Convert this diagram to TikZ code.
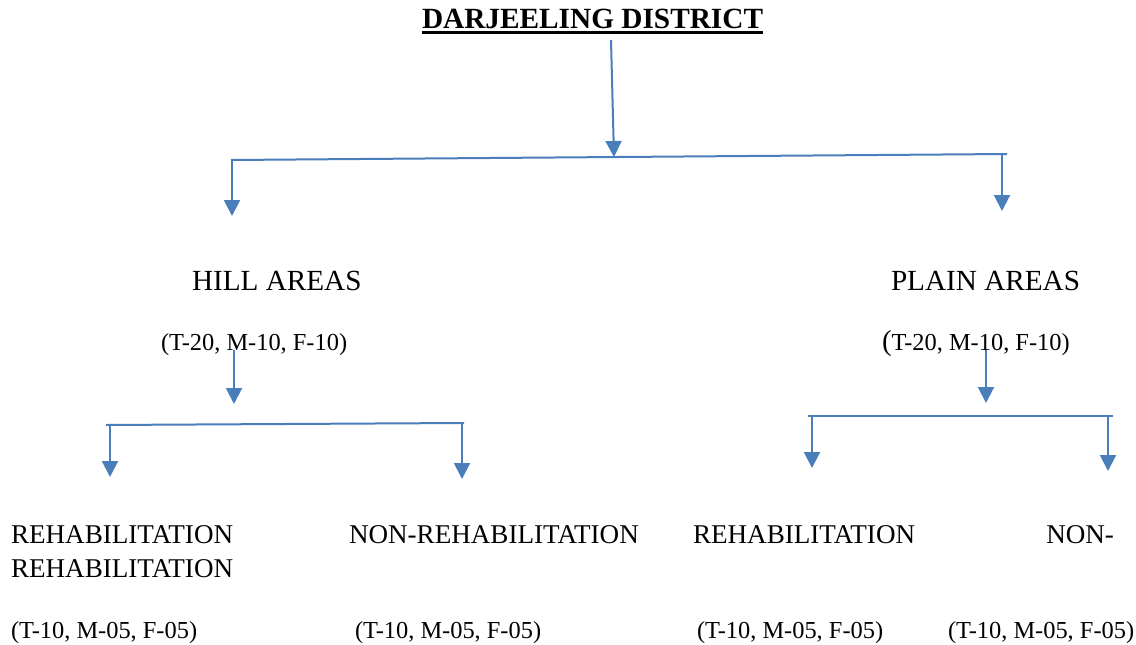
\documentclass[tikz,border=0pt]{standalone}
\usepackage{fontspec}
\setmainfont{Liberation Serif}
\usetikzlibrary{arrows.meta}
\definecolor{arrowblue}{HTML}{4A7EBB}
\tikzset{
  lbl/.style={inner sep=0pt, outer sep=0pt, anchor=base west, font=\fontsize{29.2}{34}\selectfont},
  rlbl/.style={inner sep=0pt, outer sep=0pt, anchor=base west, font=\fontsize{27.1}{34}\selectfont},
  cnt/.style={inner sep=0pt, outer sep=0pt, anchor=base west, font=\fontsize{24.4}{30}\selectfont},
  ttl/.style={inner sep=0pt, outer sep=0pt, anchor=base west, font=\bfseries\fontsize{29.3}{34}\selectfont},
  conn/.style={draw=arrowblue, line width=2pt},
  arr/.style={conn, -{Triangle[width=16pt,length=16pt]}}
}
\begin{document}
\begin{tikzpicture}[x=1pt,y=-1pt]
\useasboundingbox (0,0) rectangle (1136,645);
% title
\node[ttl] (title) at (422,28) {DARJEELING DISTRICT};
\draw[line width=2.4pt] (422,32.5) -- (763,32.5);
% level 1
\node[lbl] (hill) at (192,290) {HILL AREAS};
\node[cnt] (hillc) at (161,350) {(T-20, M-10, F-10)};
\node[lbl] (plain) at (891,290) {PLAIN AREAS};
\node[cnt] (plainc) at (882,350) {{\fontsize{29}{30}\selectfont(}T-20, M-10, F-10)};
% level 2 labels
\node[rlbl] (r1a) at (11,543) {REHABILITATION};
\node[rlbl] (r1b) at (11,577) {REHABILITATION};
\node[rlbl] (n1) at (349,543) {NON-REHABILITATION};
\node[rlbl] (r2) at (693,543) {REHABILITATION};
\node[rlbl, anchor=base east] (n2) at (1114,543) {NON-};
\node[cnt] (c1) at (11,638) {(T-10, M-05, F-05)};
\node[cnt] (c2) at (355,638) {(T-10, M-05, F-05)};
\node[cnt] (c3) at (697,638) {(T-10, M-05, F-05)};
\node[cnt] (c4) at (948,638) {(T-10, M-05, F-05)};
% coordinates
\coordinate (t0) at (611,40);
\coordinate (t1) at (614,157);
\coordinate (hl) at (231,160);
\coordinate (hr) at (1007,154);
\coordinate (a1s) at (232,160);
\coordinate (a1e) at (232,216);
\coordinate (a2s) at (1002,154);
\coordinate (a2e) at (1002,211);
\coordinate (h0) at (234,350);
\coordinate (h1) at (234,404);
\coordinate (hbl) at (106,425);
\coordinate (hbr) at (464,423);
\coordinate (b1s) at (110,425);
\coordinate (b1e) at (110,477);
\coordinate (b2s) at (462,423);
\coordinate (b2e) at (462,479);
\coordinate (p0) at (986,350);
\coordinate (p1) at (986,403);
\coordinate (pbl) at (808,416);
\coordinate (pbr) at (1113,416);
\coordinate (d1s) at (812,416);
\coordinate (d1e) at (812,468);
\coordinate (d2s) at (1108,416);
\coordinate (d2e) at (1108,471);
% connectors
\draw[arr] (t0) -- (t1);
\draw[conn] (hl) -- (hr);
\draw[arr] (a1s) -- (a1e);
\draw[arr] (a2s) -- (a2e);
\draw[arr] (h0) -- (h1);
\draw[conn] (hbl) -- (hbr);
\draw[arr] (b1s) -- (b1e);
\draw[arr] (b2s) -- (b2e);
\draw[arr] (p0) -- (p1);
\draw[conn] (pbl) -- (pbr);
\draw[arr] (d1s) -- (d1e);
\draw[arr] (d2s) -- (d2e);
\end{tikzpicture}
\end{document}
